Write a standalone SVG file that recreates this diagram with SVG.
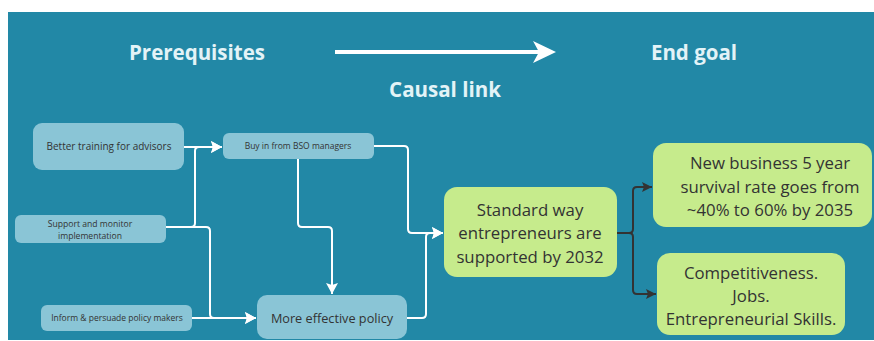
<svg xmlns="http://www.w3.org/2000/svg" width="874" height="341" viewBox="0 0 874 341">
<defs>
<style>
.bg{fill:#2288a6}
.hdr{font-family:"Open Sans","Liberation Sans",sans-serif;font-weight:bold;font-size:20.5px;fill:#e3f3f7;text-anchor:middle}
.blue{fill:#8ac5d6}
.green{fill:#c6eb8c}
.t{font-family:"Open Sans","Liberation Sans",sans-serif;fill:#333;text-anchor:middle}
.g{font-size:16.8px}
.w{fill:none;stroke:#ffffff;stroke-width:2}
.d{fill:none;stroke:#333333;stroke-width:2}
</style>
<marker id="aw" markerUnits="userSpaceOnUse" markerWidth="11" markerHeight="12" refX="11" refY="6" orient="auto">
<path d="M0,0 L11,6 L0,12 L2,6 z" fill="#ffffff"/>
</marker>
<marker id="ad" markerUnits="userSpaceOnUse" markerWidth="10" markerHeight="10" refX="10" refY="5" orient="auto">
<path d="M0,0 L10,5 L0,10 L2,5 z" fill="#333333"/>
</marker>
</defs>
<rect class="bg" x="8" y="12" width="866" height="328"/>

<g id="header">
<text class="hdr" x="197" y="60">Prerequisites</text>
<text class="hdr" x="694" y="60">End goal</text>
<text class="hdr" x="445" y="97">Causal link</text>
<line x1="335" y1="52" x2="545" y2="52" stroke="#ffffff" stroke-width="4"/>
<path d="M533,41 L556,52 L533,63 L539,52 z" fill="#ffffff"/>
</g>

<g id="connectors">
<path class="w" d="M184,147 H222" marker-end="url(#aw)"/>
<path class="w" d="M166,227 H191 Q195,227 195,223 V151 Q195,147 199,147 H222" marker-end="url(#aw)"/>
<path class="w" d="M166,227 H206 Q210,227 210,231 V314 Q210,318 214,318 H256" marker-end="url(#aw)"/>
<path class="w" d="M192,318 H256" marker-end="url(#aw)"/>
<path class="w" d="M298,159 V223 Q298,227 302,227 H328 Q332,227 332,231 V294" marker-end="url(#aw)"/>
<path class="w" d="M374,146 H404 Q408,146 408,150 V229 Q408,233 412,233 H443" marker-end="url(#aw)"/>
<path class="w" d="M407,318 H422 Q426,318 426,314 V237 Q426,233 430,233 H443" marker-end="url(#aw)"/>
<path class="d" d="M617,233 H629 Q633,233 633,229 V191 Q633,187 637,187 H652" marker-end="url(#ad)"/>
<path class="d" d="M617,233 H629 Q633,233 633,237 V290 Q633,294 637,294 H656" marker-end="url(#ad)"/>
</g>

<g id="better-training">
<rect class="blue" x="33" y="123" width="151" height="47" rx="9"/>
<text class="t" x="109" y="150" font-size="10">Better training for advisors</text>
</g>
<g id="buy-in">
<rect class="blue" x="223" y="133" width="151" height="26" rx="6"/>
<text class="t" x="298" y="149" font-size="8.5">Buy in from BSO managers</text>
</g>
<g id="support">
<rect class="blue" x="15" y="215" width="151" height="28" rx="6"/>
<text class="t" x="90" y="227" font-size="8.6">Support and monitor</text>
<text class="t" x="90" y="238.5" font-size="8.6">implementation</text>
</g>
<g id="inform">
<rect class="blue" x="41" y="305" width="151" height="26" rx="6"/>
<text class="t" x="117" y="321" font-size="8.5">Inform &amp; persuade policy makers</text>
</g>
<g id="more-effective">
<rect class="blue" x="257" y="295" width="150" height="44" rx="10"/>
<text class="t" x="332" y="323" font-size="12.7">More effective policy</text>
</g>
<g id="standard-way">
<rect class="green" x="444" y="187" width="173" height="90" rx="13"/>
<text class="t g" x="530" y="216">Standard way</text>
<text class="t g" x="530" y="239">entrepreneurs are</text>
<text class="t g" x="530" y="263">supported by 2032</text>
</g>
<g id="new-business">
<rect class="green" x="653" y="143" width="219" height="84" rx="13"/>
<text class="t g" x="770" y="169">New business 5 year</text>
<text class="t g" x="770" y="193">survival rate goes from</text>
<text class="t g" x="770" y="216">~40% to 60% by 2035</text>
</g>
<g id="competitiveness">
<rect class="green" x="657" y="253" width="188" height="82" rx="13"/>
<text class="t g" x="751" y="279">Competitiveness.</text>
<text class="t g" x="751" y="302">Jobs.</text>
<text class="t g" x="751" y="325">Entrepreneurial Skills.</text>
</g>
</svg>
